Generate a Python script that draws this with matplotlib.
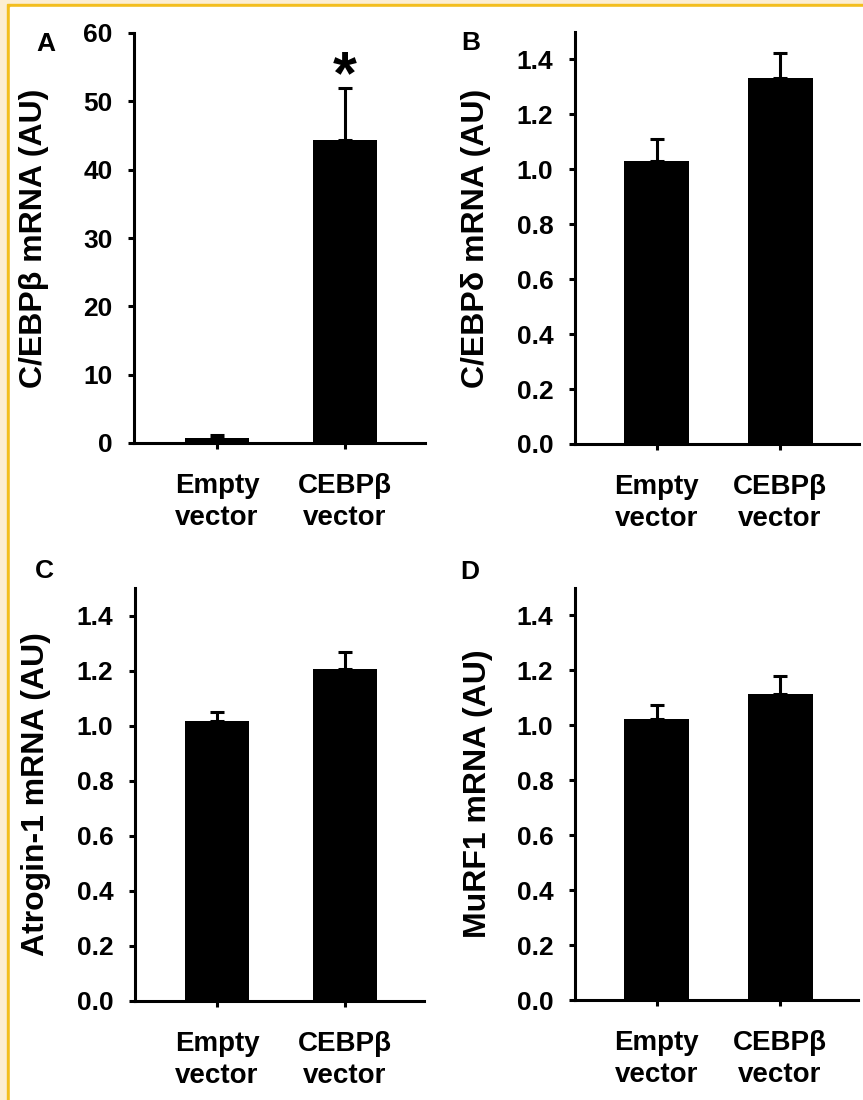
import matplotlib
matplotlib.use("Agg")
import numpy as np
from matplotlib import pyplot as plt
from matplotlib.patches import Rectangle

plt.rcParams['font.family'] = ['Liberation Sans', 'DejaVu Sans']
plt.rcParams['font.weight'] = 'bold'
plt.rcParams['axes.labelweight'] = 'bold'

groups = ["Empty\nvector", "CEBP\u03b2\nvector"]

a_means = [0.8, 44.4]
a_err = [0.4, 7.5]
b_means = [1.03, 1.334]
b_err = [0.08, 0.089]
c_means = [1.018, 1.206]
c_err = [0.031, 0.063]
d_means = [1.024, 1.113]
d_err = [0.051, 0.065]

ylabels = ["C/EBP\u03b2 mRNA (AU)", "C/EBP\u03b4 mRNA (AU)",
           "Atrogin-1 mRNA (AU)", "MuRF1 mRNA (AU)"]
letters = ["A", "B", "C", "D"]

W, H = 863, 1100
fig = plt.figure(figsize=(W / 100, H / 100), dpi=100)

# page frame: cream margin, gold rule, white page
fig.add_artist(Rectangle((0, 0), 1, 1, transform=fig.transFigure, color='#FCEED3', zorder=-3))
fig.add_artist(Rectangle((7 / W, 0), 1, 1 - 4 / H, transform=fig.transFigure, color='#F3BE1E', zorder=-2))
fig.add_artist(Rectangle((10 / W, 0), 1, 1 - 7 / H, transform=fig.transFigure, color='white', zorder=-1))


def px_axes(x0, x1, ytop, ybot):
    return fig.add_axes([x0 / W, 1 - ybot / H, (x1 - x0) / W, (ybot - ytop) / H])


panels = [
    # axes box in px, bar centres in px, bar width px
    dict(box=(134, 425, 33, 443), centres=(217, 345), bw=64, means=a_means, err=a_err,
         ylim=60, ticks=np.arange(0, 61, 10), fmt="{:.0f}", lab_x=49, let=(46, 44)),
    dict(box=(575, 859, 32, 444), centres=(656.5, 780), bw=65, means=b_means, err=b_err,
         ylim=1.5, ticks=np.arange(0, 1.41, 0.2), fmt="{:.1f}", lab_x=491, let=(471, 43)),
    dict(box=(135, 424, 588, 1001), centres=(217, 345), bw=64, means=c_means, err=c_err,
         ylim=1.5, ticks=np.arange(0, 1.41, 0.2), fmt="{:.1f}", lab_x=51, let=(44, 571)),
    dict(box=(575, 858, 588, 1000), centres=(656.5, 780), bw=65, means=d_means, err=d_err,
         ylim=1.5, ticks=np.arange(0, 1.41, 0.2), fmt="{:.1f}", lab_x=493, let=(470, 572)),
]

for i, p in enumerate(panels):
    x0, x1, yt, yb = p['box']
    ax = px_axes(x0, x1, yt, yb)
    c0, c1 = p['centres']
    step = c1 - c0
    xs = np.arange(len(groups))
    ax.set_xlim(-(c0 - x0) / step, 1 + (x1 - c1) / step)
    ax.bar(xs, p['means'], width=p['bw'] / step, color='black', zorder=2)
    ax.errorbar(xs, p['means'], yerr=[np.zeros(2), p['err']], fmt='none', ecolor='black',
                elinewidth=2.2, capsize=5, capthick=2.2, zorder=3)
    ax.set_ylim(0, p['ylim'])
    ax.set_yticks(p['ticks'])
    ax.set_yticklabels([p['fmt'].format(t) for t in p['ticks']])
    ax.set_xticks(xs)
    ax.set_xticklabels(groups, linespacing=1.3)
    for s in ['top', 'right']:
        ax.spines[s].set_visible(False)
    for s in ['left', 'bottom']:
        ax.spines[s].set_linewidth(2.2)
    ax.tick_params(axis='both', direction='out', length=4.5, width=2.2)
    ax.tick_params(axis='y', labelsize=19, pad=11)
    ax.tick_params(axis='x', labelsize=20, pad=17)
    ax.set_ylabel(ylabels[i], fontsize=23)
    ax.yaxis.set_label_coords((p['lab_x'] - x0) / (x1 - x0), 0.5)
    fig.text(p['let'][0] / W, 1 - p['let'][1] / H, letters[i], fontsize=19,
             ha='center', va='center')
    if i == 0:
        ax.text(1, 49.3, "*", fontsize=44, ha='center', va='bottom')

fig.savefig("out.png", dpi=100)
